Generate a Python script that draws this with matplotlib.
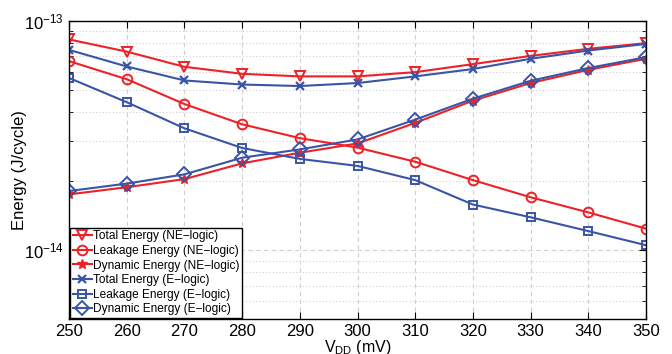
import matplotlib
matplotlib.use('Agg')
import matplotlib.pyplot as plt
from matplotlib.ticker import LogLocator, NullFormatter

plt.rcParams['font.family'] = ['Liberation Sans', 'DejaVu Sans']

vdd = [250, 260, 270, 280, 290, 300, 310, 320, 330, 340, 350]

total_ne = [8.31e-14, 7.35e-14, 6.31e-14, 5.88e-14, 5.73e-14, 5.73e-14, 5.98e-14, 6.48e-14, 7.04e-14, 7.56e-14, 8.0e-14]
leak_ne = [6.68e-14, 5.57e-14, 4.34e-14, 3.54e-14, 3.08e-14, 2.80e-14, 2.43e-14, 2.02e-14, 1.70e-14, 1.46e-14, 1.24e-14]
dyn_ne = [1.75e-14, 1.88e-14, 2.04e-14, 2.39e-14, 2.66e-14, 2.92e-14, 3.59e-14, 4.49e-14, 5.36e-14, 6.12e-14, 6.84e-14]
total_e = [7.48e-14, 6.33e-14, 5.50e-14, 5.28e-14, 5.20e-14, 5.36e-14, 5.73e-14, 6.17e-14, 6.84e-14, 7.43e-14, 7.94e-14]
leak_e = [5.64e-14, 4.42e-14, 3.40e-14, 2.79e-14, 2.50e-14, 2.33e-14, 2.02e-14, 1.58e-14, 1.39e-14, 1.21e-14, 1.05e-14]
dyn_e = [1.81e-14, 1.95e-14, 2.14e-14, 2.53e-14, 2.75e-14, 3.04e-14, 3.71e-14, 4.58e-14, 5.48e-14, 6.23e-14, 6.95e-14]

red = '#ec2228'
blue = '#3a55a5'

fig = plt.figure(figsize=(6.72, 3.54), dpi=100)
ax = fig.add_axes([0.1027, 0.0989, 0.8586, 0.8418])

lw = 1.5
ax.plot(vdd, total_ne, color=red, lw=lw, marker='v', ms=7, mfc='none', mew=1.4, label='Total Energy (NE\u2212logic)')
ax.plot(vdd, leak_ne, color=red, lw=lw, marker='o', ms=7, mfc='none', mew=1.4, label='Leakage Energy (NE\u2212logic)')
ax.plot(vdd, dyn_ne, color=red, lw=lw, marker='*', ms=7, mew=1.0, label='Dynamic Energy (NE\u2212logic)')
ax.plot(vdd, total_e, color=blue, lw=lw, marker='x', ms=6, mew=1.6, label='Total Energy (E\u2212logic)')
ax.plot(vdd, leak_e, color=blue, lw=lw, marker='s', ms=6, mfc='none', mew=1.4, label='Leakage Energy (E\u2212logic)')
ax.plot(vdd, dyn_e, color=blue, lw=lw, marker='D', ms=7, mfc='none', mew=1.4, label='Dynamic Energy (E\u2212logic)')

ax.set_yscale('log')
ax.set_xlim(250, 350)
ax.set_ylim(5e-15, 1e-13)
ax.set_xticks(vdd)
ax.yaxis.set_minor_locator(LogLocator(base=10, subs=range(2, 10)))
ax.yaxis.set_minor_formatter(NullFormatter())

ax.grid(True, which='major', ls=(0, (4, 3)), color='#d0d0d0', lw=0.8)
ax.grid(True, which='minor', axis='y', ls=(0, (1, 2)), color='#d0d0d0', lw=0.8)
ax.tick_params(which='both', direction='in', top=True, right=True, labelsize=12, color='black')
ax.tick_params(which='major', length=5)
ax.tick_params(which='minor', length=3)
for s in ax.spines.values():
    s.set_linewidth(1.0)

ax.set_xlabel('V$_{\\mathregular{DD}}$ (mV)', fontsize=11.5)
ax.xaxis.set_label_coords(0.5, -0.064)
ax.set_ylabel('Energy (J/cycle)', fontsize=12)
ax.yaxis.set_label_coords(-0.072, 0.5)

leg = ax.legend(loc='lower left', fontsize=8.6, fancybox=False, framealpha=1, edgecolor='black',
                borderpad=0.2, labelspacing=0.22, handlelength=1.6, handletextpad=0.1,
                borderaxespad=0.1)
leg.get_frame().set_linewidth(1.0)

fig.savefig('out.png', dpi=100)
